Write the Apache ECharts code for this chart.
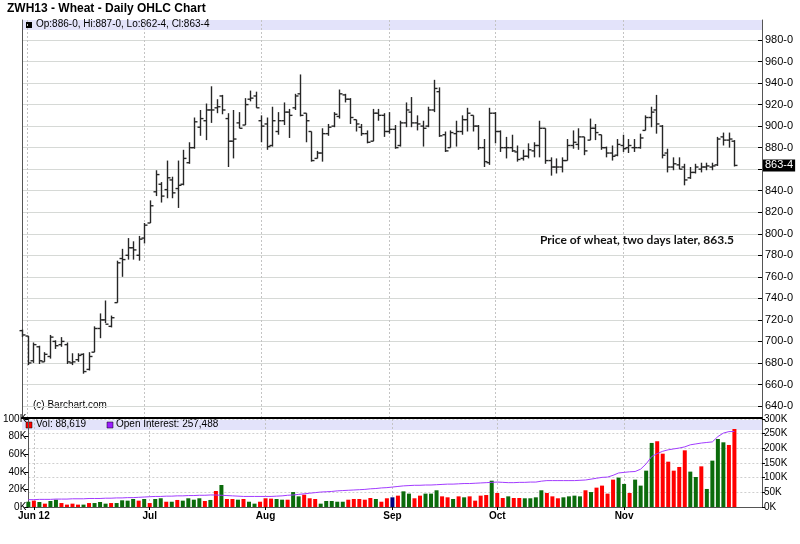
<!DOCTYPE html>
<html><head><meta charset="utf-8">
<script src="https://cdn.jsdelivr.net/npm/echarts/dist/echarts.min.js"></script>
<style>html,body{margin:0;padding:0;background:#fff}#c{width:800px;height:544px}</style>
</head><body><div id="c"></div>
<script>
// ---- data (ZWH13 daily, May 31 – Nov 29 2012, one entry per trading day) ----
const slotCount = 134; // 129 trading days + empty right margin slots
const monthLabels = ['Jun 12', 'Jul', 'Aug', 'Sep', 'Oct', 'Nov'];
const monthIndex = [1, 22, 43, 66, 85, 108];

const opens = [710,705,682,695,681,686,700,697,697,680,683,688,674,690,712,720,714,736,777,780,787,780,796,810,839,846,841,850,842,846,866,880,899,905,915,917,928,907,886,903,901,925,928,905,902,882,895,905,913,917,930,912,895,870,875,893,900,909,929,925,906,899,893,886,912,910,895,897,882,903,913,903,900,900,915,932,892,880,893,895,906,910,900,880,866,912,895,880,880,876,870,872,877,882,898,868,862,862,868,882,883,890,887,898,892,880,875,873,882,880,880,880,896,908,915,900,875,862,864,862,852,857,860,862,862,864,890,887,886];
const highs = [711,705,699,696,690,706,701,704,699,689,689,689,690,714,726,738,724,775,786,796,793,798,810,831,859,848,868,853,868,878,885,908,915,921,937,925,929,912,915,913,926,933,932,910,908,918,913,922,916,930,948,912,895,877,898,902,913,934,930,926,906,902,896,916,916,912,913,901,905,922,927,910,905,918,943,936,895,896,905,910,917,910,901,888,917,913,896,890,892,882,878,884,885,905,898,871,870,871,888,896,898,890,907,902,892,881,882,888,892,888,888,893,910,918,929,901,879,871,871,865,862,865,866,866,866,890,894,894,887];
const lows = [704,678,680,679,681,684,693,695,679,678,681,670,673,690,703,717,713,736,760,776,776,775,791,810,835,829,833,833,824,845,865,879,891,887,903,912,911,862,870,898,901,923,917,885,878,881,892,901,889,915,909,885,867,870,867,891,899,907,922,902,895,891,884,886,905,890,893,879,881,899,899,896,881,899,913,890,876,880,881,892,895,895,878,862,864,884,876,870,876,867,868,870,871,871,865,854,856,857,868,879,878,873,887,887,878,871,868,872,876,875,876,879,896,899,893,870,857,859,860,845,851,856,857,859,859,863,882,880,862.5];
const closes = [706,680,697,682,688,704,696,700,681,681,687,672,686,712,720,716,722,773,776,787,785,795,808,826,855,835,852,838,845,870,880,904,907,915,915,918,915,886,888,898,920,926,917,900,881,905,905,913,910,928,910,905,868,875,893,899,911,930,925,908,902,893,885,912,910,895,897,880,903,915,903,902,898,915,935,891,877,894,895,906,912,900,880,867,912,895,880,880,877,869,872,878,882,898,868,862,862,868,882,885,890,877,898,894,880,875,872,883,879,882,880,889,908,913,902,873,862,865,860,850,857,862,862,863,863,888,887,888,863.5];

// volume in contracts, and bar colour code: u = up (green), d = down (red), n = unchanged (navy)
const volumes = [6000,7200,5700,3800,6800,8300,4500,2700,3800,2700,2700,4500,4500,5700,3800,4500,4500,7600,7200,9100,7200,9100,4500,9100,9900,6000,6000,8000,7200,9900,8300,9900,6800,8000,18200,25000,9100,9100,8300,9100,6000,3800,6000,9900,9500,9100,8300,8300,17000,12100,14000,9900,9100,3800,6800,6800,6000,6000,8300,9100,9100,8300,10200,9100,6000,9900,11000,12900,17800,15200,9900,12900,15200,15200,19000,12100,11000,9100,12100,11000,12100,7200,12900,13600,29900,15900,10200,12100,10200,10200,9900,9900,11000,19000,15900,12100,9900,11000,12100,12900,12100,19000,17000,22000,24300,15200,31100,33400,26200,15900,31100,24300,41300,72800,74700,60600,51500,41300,45500,64400,40200,34100,46200,20500,52700,77300,73500,70500,88619];
const volDir = [
  'u','d','u','d','u','u','d','d','d','d',
  'u','d','u','u','u','d','u','u','u','u',
  'd','u','d','u','u','d','u','d','u','u',
  'u','u','d','u','d','u','d','d','u','d',
  'u','u','d','d','d','u','u','d','u','u',
  'd','d','d','u','u','u','u','u','d','d',
  'd','d','d','u','d','d','n','d','u','u',
  'd','d','u','u','u','d','d','u','d','u',
  'd','d','d','d','u','d','d','u','d','d',
  'u','u','u','u','d','d','d','u','u','u',
  'u','d','u','d','d','d','d','u','u','d',
  'u','u','u','u','d','d','d','d','d','d',
  'u','u','d','u','u','u','u','d','d'
];
const openInterest = [25000,25000,26000,26000,26000,27000,27000,27000,28000,28000,28000,29000,29000,29000,30000,30000,31000,31000,32000,32000,33000,34000,35000,36000,36000,37000,37000,38000,38000,39000,39000,40000,40000,41000,41000,40000,39000,38000,37000,36000,36000,36000,36000,36000,36000,37000,38000,40000,41000,43000,45000,47000,49000,51000,52000,53000,55000,56000,57000,58000,59000,60000,62000,63000,65000,66000,68000,70000,72000,73000,74000,74000,75000,75000,76000,77000,78000,78000,79000,80000,80000,81000,82000,83000,84000,85000,84000,83000,83000,84000,84000,85000,85000,88000,90000,90000,90000,90000,90000,90000,91000,92000,95000,98000,101000,102000,108000,116000,118000,120000,121000,129000,147000,172000,182000,190000,195000,198000,201000,205000,212000,215000,218000,220000,222000,240000,252000,257000,257488];

const lastClose = 863.5;
const lastCloseLabel = '863-4';
const titleText = 'ZWH13 - Wheat - Daily OHLC Chart';
const ohlcLegend = 'Op:886-0, Hi:887-0, Lo:862-4, Cl:863-4';
const volLegend = 'Vol: 88,619';
const oiLegend = 'Open Interest: 257,488';
const noteText = 'Price of wheat, two days later, 863.5';

// ---- build ----
const categories = Array.from({length: slotCount}, (_, i) => String(i));
const isMonth = (i) => monthIndex.indexOf(i) >= 0;
const ohlcData = opens.map((o, i) => [i, o, highs[i], lows[i], closes[i]]);
const dirColor = {u: '#0b6b0b', d: '#ff0000', n: '#000080'};
const volData = volumes.map((v, i) => ({value: v, itemStyle: {color: dirColor[volDir[i]] || '#0b6b0b'}}));

const L = 22, R = 38;
const FONT = 'Liberation Sans, Arial, sans-serif';
const chart = echarts.init(document.getElementById('c'), null, {renderer: 'canvas'});
chart.setOption({
  animation: false,
  backgroundColor: '#fff',
  textStyle: {fontFamily: FONT},
  grid: [
    {left: L, right: R, top: 20, height: 398},
    {left: L, right: R, top: 40, height: 366},
    {left: L, right: R, top: 419, height: 88}
  ],
  xAxis: [
    {type: 'category', gridIndex: 0, data: categories, boundaryGap: false,
     axisLine: {show: true, lineStyle: {color: '#000', width: 2}},
     axisTick: {show: false}, axisLabel: {show: false},
     splitLine: {show: true, interval: (i) => isMonth(i), lineStyle: {color: '#c4c4c4', type: [2, 2]}}},
    {type: 'category', gridIndex: 1, data: categories, boundaryGap: false, show: false},
    {type: 'category', gridIndex: 2, data: categories, boundaryGap: false,
     axisLine: {show: true, lineStyle: {color: '#555', width: 1}},
     axisTick: {show: true, interval: (i) => isMonth(i), length: 3, lineStyle: {color: '#000'}},
     axisLabel: {show: true, interval: (i) => isMonth(i), margin: 4,
       formatter: (v, i) => { const k = monthIndex.indexOf(Number(v)); return k >= 0 ? monthLabels[k] : ''; },
       color: '#000', fontWeight: 'bold', fontSize: 10, fontFamily: FONT},
     splitLine: {show: true, interval: (i) => isMonth(i), lineStyle: {color: '#c4c4c4', type: [2, 2]}}}
  ],
  yAxis: [
    {type: 'value', gridIndex: 0, position: 'right', min: 0, max: 1,
     axisLine: {show: true, lineStyle: {color: '#555'}}, axisTick: {show: false},
     axisLabel: {show: false}, splitLine: {show: false}},
    {type: 'value', gridIndex: 0, position: 'left', min: 0, max: 1,
     axisLine: {show: true, lineStyle: {color: '#555'}}, axisTick: {show: false},
     axisLabel: {show: false}, splitLine: {show: false}},
    {type: 'value', gridIndex: 1, position: 'right', min: 640, max: 980, interval: 20,
     axisLine: {show: false},
     axisTick: {show: true, inside: true, length: 4, lineStyle: {color: '#000'}},
     axisLabel: {show: true, margin: 3, color: '#000', fontSize: 11, fontFamily: FONT,
       formatter: (v) => Math.abs(v - lastClose) < 10 ? '' : v + '-0'},
     splitLine: {show: true, lineStyle: {color: '#d6d9d6', width: 1}}},
    {type: 'value', gridIndex: 2, position: 'left', min: 0, max: 100000, interval: 20000,
     axisLine: {show: true, lineStyle: {color: '#555'}},
     axisTick: {show: true, length: 4, lineStyle: {color: '#000'}},
     axisLabel: {show: true, margin: 2, color: '#000', fontSize: 10, fontFamily: FONT,
       formatter: (v) => (v / 1000) + 'K'},
     splitLine: {show: false}},
    {type: 'value', gridIndex: 2, position: 'right', min: 0, max: 300000, interval: 50000,
     axisLine: {show: true, lineStyle: {color: '#555'}},
     axisTick: {show: true, length: 3, lineStyle: {color: '#000'}},
     axisLabel: {show: true, margin: 2, color: '#000', fontSize: 10, fontFamily: FONT,
       formatter: (v) => (v / 1000) + 'K'},
     splitLine: {show: true, lineStyle: {color: '#cfcfcf', type: [2, 2]}}}
  ],
  series: [
    {type: 'custom', xAxisIndex: 1, yAxisIndex: 2, data: ohlcData,
     encode: {x: 0, y: [1, 2, 3, 4]}, silent: true, z: 3,
     renderItem: (params, api) => {
       const i = api.value(0);
       const pO = api.coord([i, api.value(1)]);
       const pH = api.coord([i, api.value(2)]);
       const pL = api.coord([i, api.value(3)]);
       const pC = api.coord([i, api.value(4)]);
       const x = Math.round(pH[0]) + 0.5;
       const st = {stroke: '#262626', lineWidth: 1.4};
       return {type: 'group', children: [
         {type: 'line', shape: {x1: x, y1: pH[1], x2: x, y2: pL[1]}, style: st},
         {type: 'line', shape: {x1: x - 3, y1: pO[1], x2: x, y2: pO[1]}, style: st},
         {type: 'line', shape: {x1: x, y1: pC[1], x2: x + 3, y2: pC[1]}, style: st}
       ]};
     }},
    {type: 'line', xAxisIndex: 1, yAxisIndex: 2, data: [], silent: true, z: 5,
     markLine: {silent: true, symbol: 'none', animation: false,
       lineStyle: {color: 'rgba(255,255,255,0)', width: 1, type: 'solid'},
       label: {show: true, position: 'end', distance: 1, formatter: lastCloseLabel,
         color: '#fff', backgroundColor: '#000', padding: [1, 2, 0, 2],
         fontSize: 11, fontFamily: FONT, opacity: 1},
       data: [{yAxis: lastClose}]}},
    {type: 'bar', xAxisIndex: 2, yAxisIndex: 3, data: volData, barWidth: 4, silent: true, z: 3},
    {type: 'line', xAxisIndex: 2, yAxisIndex: 4, data: openInterest, symbol: 'none', silent: true,
     lineStyle: {color: '#a23cff', width: 1}, z: 4}
  ],
  graphic: [
    {type: 'rect', z: -1, shape: {x: 22, y: 20, width: 740, height: 10}, style: {fill: '#e3e3fa'}},
    {type: 'rect', z: -1, shape: {x: 22, y: 420, width: 740, height: 10}, style: {fill: '#e3e3fa'}},
    {type: 'text', left: 7, top: 3, style: {text: titleText, font: 'bold 12px ' + FONT, fill: '#000'}},
    {type: 'rect', shape: {x: 26, y: 22, width: 6, height: 6}, style: {fill: '#000'}},
    {type: 'text', left: 36, top: 19, style: {text: ohlcLegend, font: '10px ' + FONT, fill: '#000'}},
    {type: 'rect', shape: {x: 26, y: 422, width: 6, height: 6}, style: {fill: '#ff0000', stroke: '#000', lineWidth: 0.5}},
    {type: 'text', left: 36, top: 419, style: {text: volLegend, font: '10px ' + FONT, fill: '#000'}},
    {type: 'rect', shape: {x: 107, y: 422, width: 6, height: 6}, style: {fill: '#9a1cff', stroke: '#000', lineWidth: 0.5}},
    {type: 'text', left: 116, top: 419, style: {text: oiLegend, font: '10px ' + FONT, fill: '#000'}},
    {type: 'text', left: 33, top: 400, style: {text: '(c) Barchart.com', font: '10px ' + FONT, fill: '#000'}},
    {type: 'text', left: 540, top: 234, style: {text: noteText, font: 'bold 12px Lato, ' + FONT, fill: '#111'}}
  ]
});
</script></body></html>
